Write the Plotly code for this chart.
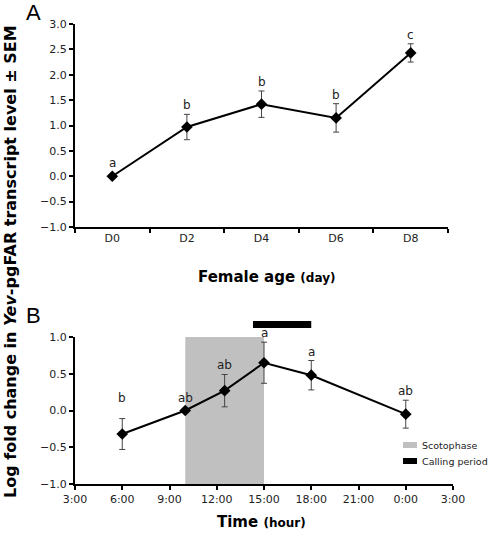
import plotly.graph_objects as go

# ---------------- data ----------------
age_days = ["D0", "D2", "D4", "D6", "D8"]
age_level = [0.0, 0.97, 1.42, 1.15, 2.43]
age_sem = [0.0, 0.25, 0.26, 0.28, 0.18]
age_letters = ["a", "b", "b", "b", "c"]

time_hours = [6, 10, 12.5, 15, 18, 24]
time_level = [-0.32, 0.0, 0.27, 0.65, 0.48, -0.05]
time_sem = [0.21, 0.0, 0.22, 0.28, 0.20, 0.19]
time_letters = ["b", "ab", "ab", "a", "a", "ab"]

time_tickvals = [3, 6, 9, 12, 15, 18, 21, 24, 27]
time_ticklabels = ["3:00", "6:00", "9:00", "12:00", "15:00", "18:00", "21:00", "0:00", "3:00"]

scotophase = (10, 15)
calling_period = (14.3, 18)

# ---------------- layout helpers ----------------
W, H = 493, 542
def px(x):
    return x / W
def py(y):
    return 1 - y / H

FONT = "DejaVu Sans"
fig = go.Figure()

line_style = dict(color="black", width=2)
marker_style = dict(symbol="diamond", size=9, color="black")
err_style = dict(type="data", thickness=1, width=3, color="#444")

fig.add_trace(go.Scatter(
    x=age_days, y=age_level, mode="lines+markers",
    line=line_style, marker=marker_style,
    error_y=dict(array=age_sem, visible=True, **err_style),
    xaxis="x", yaxis="y", showlegend=False))

fig.add_trace(go.Scatter(
    x=time_hours, y=time_level, mode="lines+markers",
    line=line_style, marker=marker_style,
    error_y=dict(array=time_sem, visible=True, **err_style),
    xaxis="x2", yaxis="y2", showlegend=False))

annotations = []
letter_font = dict(family=FONT, size=12, color="#222")
for i, (c, v, e, t) in enumerate(zip(age_days, age_level, age_sem, age_letters)):
    annotations.append(dict(x=c, y=v + e, xref="x", yref="y", text=t, showarrow=False,
                            yanchor="bottom", yshift=4 if e == 0 else 0, font=letter_font))
for i, (h, v, e, t) in enumerate(zip(time_hours, time_level, time_sem, time_letters)):
    annotations.append(dict(x=h, y=v + e, xref="x2", yref="y2", text=t, showarrow=False,
                            yanchor="bottom", yshift=(12 if i == 0 else (4 if e == 0 else 0)),
                            font=letter_font))

# panel labels
annotations.append(dict(x=px(24), y=py(12), xref="paper", yref="paper", text="A",
                        showarrow=False, xanchor="left", yanchor="middle",
                        font=dict(family="Liberation Sans", size=22, color="black")))
annotations.append(dict(x=px(24), y=py(315), xref="paper", yref="paper", text="B",
                        showarrow=False, xanchor="left", yanchor="middle",
                        font=dict(family="Liberation Sans", size=22, color="black")))

# axis titles
annotations.append(dict(x=px(10), y=py(262), xref="paper", yref="paper",
                        text="<b>Log fold change in <i>Yev</i>-pgFAR transcript level ± SEM</b>",
                        textangle=-90, showarrow=False, xanchor="center", yanchor="middle",
                        font=dict(family=FONT, size=16, color="black")))
annotations.append(dict(x=px(266), y=py(277), xref="paper", yref="paper",
                        text="<b>Female age <span style='font-size:12px'>(day)</span></b>",
                        showarrow=False, font=dict(family=FONT, size=15, color="black")))
annotations.append(dict(x=px(261), y=py(533), xref="paper", yref="paper",
                        text="<b>Time <span style='font-size:12px'>(hour)</span></b>",
                        showarrow=False, font=dict(family=FONT, size=15, color="black")))

# legend text
legend_font = dict(family=FONT, size=9.5, color="#222")
annotations.append(dict(x=px(420), y=py(445), xref="paper", yref="paper", text="Scotophase",
                        showarrow=False, xanchor="left", yanchor="middle", font=legend_font))
annotations.append(dict(x=px(420), y=py(461), xref="paper", yref="paper", text="Calling period",
                        showarrow=False, xanchor="left", yanchor="middle", font=legend_font))

shapes = [
    dict(type="rect", xref="x2", yref="y2", x0=scotophase[0], x1=scotophase[1], y0=-1, y1=1,
         fillcolor="#c0c0c0", line=dict(width=0), layer="below"),
    dict(type="rect", xref="x2", yref="y2 domain", x0=calling_period[0], x1=calling_period[1],
         y0=1.061, y1=1.109, fillcolor="black", line=dict(width=0)),
    dict(type="rect", xref="paper", yref="paper", x0=px(403), x1=px(417), y0=py(448), y1=py(442),
         fillcolor="#c0c0c0", line=dict(width=0)),
    dict(type="rect", xref="paper", yref="paper", x0=px(403), x1=px(417), y0=py(464), y1=py(458),
         fillcolor="black", line=dict(width=0)),
]

tick_font = dict(family=FONT, size=11, color="#222")
axis_common = dict(showline=True, linecolor="black", linewidth=2, ticks="outside",
                   ticklen=4, tickwidth=1.5, tickcolor="black", showgrid=False,
                   zeroline=False, tickfont=tick_font, automargin=False)

fig.update_layout(
    width=W, height=H,
    margin=dict(l=0, r=0, t=0, b=0, pad=0),
    paper_bgcolor="white", plot_bgcolor="white",
    xaxis=dict(domain=[px(75), px(448)], anchor="y", type="category",
               range=[-0.5, 4.5], tickson="boundaries", **axis_common),
    yaxis=dict(domain=[py(227), py(24)], anchor="x", range=[-1, 3], dtick=0.5,
               tickformat=".1f", **axis_common),
    xaxis2=dict(domain=[px(75), px(453)], anchor="y2", range=[3, 27],
                tickvals=time_tickvals, ticktext=time_ticklabels, **axis_common),
    yaxis2=dict(domain=[py(484), py(337)], anchor="x2", range=[-1, 1], dtick=0.5,
                tickformat=".1f", **axis_common),
    annotations=annotations,
    shapes=shapes,
)

fig.write_html("out.html", config={"displayModeBar": False},
               post_script="document.body.style.margin='0';document.body.style.overflow='hidden';")
